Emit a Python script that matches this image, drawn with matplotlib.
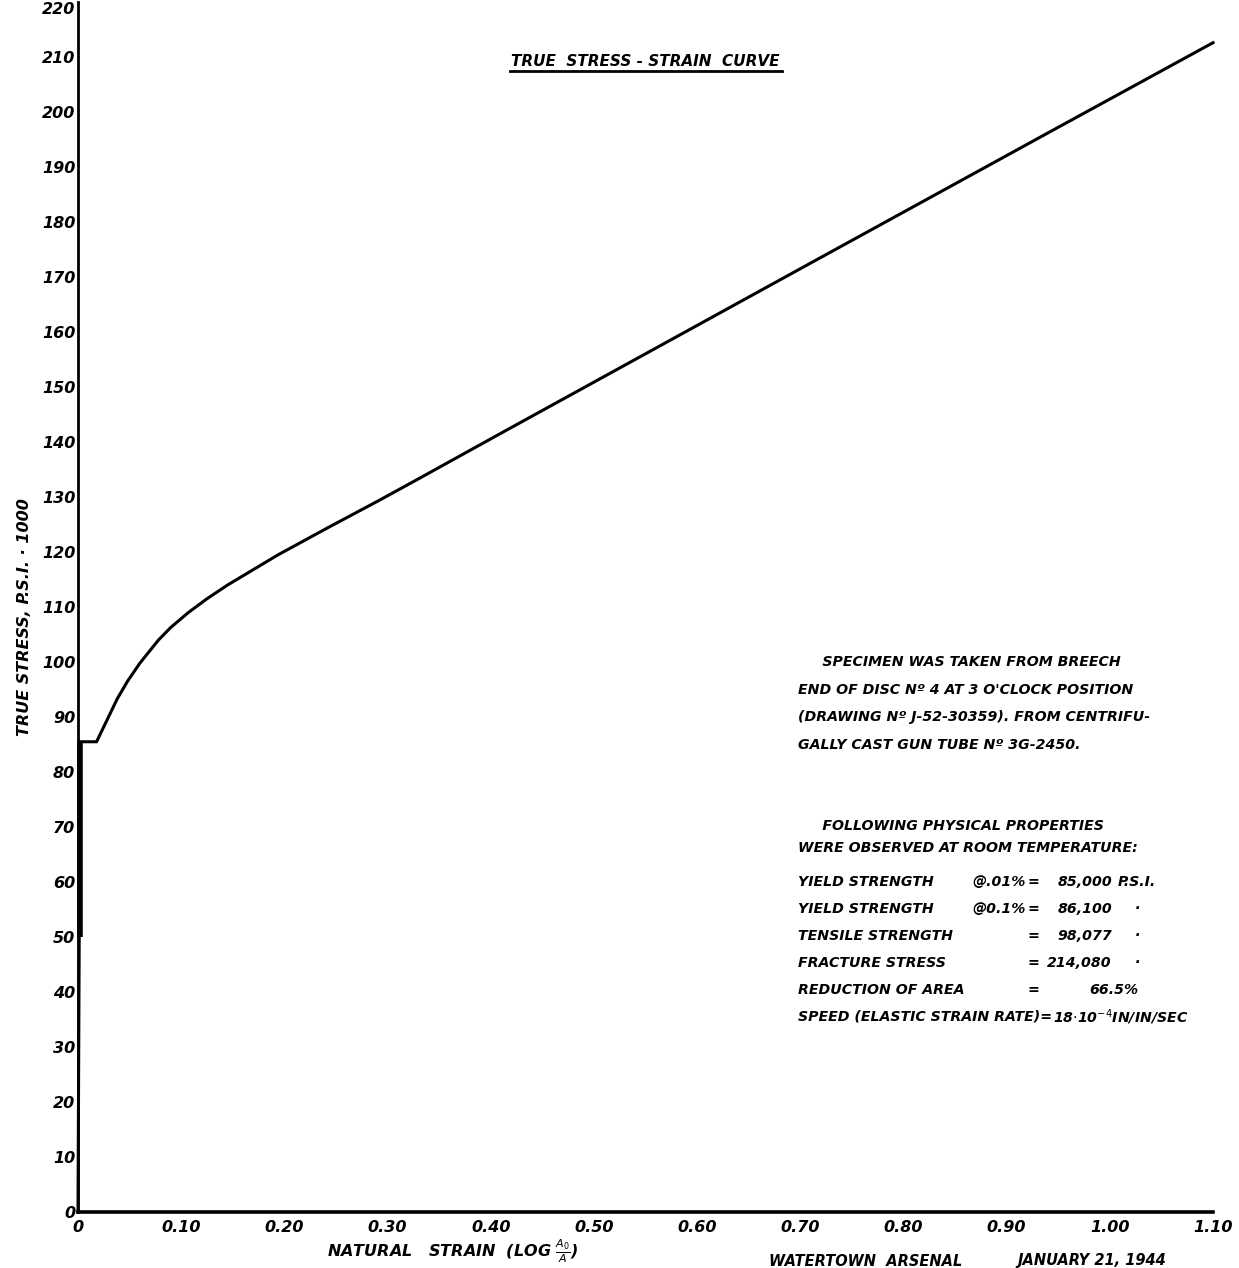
import matplotlib
matplotlib.use("Agg")
import matplotlib.pyplot as plt
from matplotlib.lines import Line2D

# ---- data ----
strain = [0.0, 0.002, 0.018, 0.038, 0.048, 0.060, 0.078, 0.090, 0.107, 0.125,
          0.145, 0.194, 0.242, 0.291, 0.329, 0.409, 0.506, 0.603, 0.700,
          0.838, 0.942, 1.022, 1.100]
true_stress = [0.0, 85.5, 85.5, 93.3, 96.5, 99.8, 104.0, 106.3, 109.0, 111.5,
               114.0, 119.5, 124.4, 129.3, 133.2, 141.5, 151.5, 161.5, 171.5,
               185.7, 196.4, 204.6, 212.6]

x_tick_values = [0.0, 0.1, 0.2, 0.3, 0.4, 0.5, 0.6, 0.7, 0.8, 0.9, 1.0, 1.1]
x_tick_labels = ["0", "0.10", "0.20", "0.30", "0.40", "0.50", "0.60", "0.70",
                 "0.80", "0.90", "1.00", "1.10"]
y_tick_values = list(range(0, 230, 10))

prop_names = ["YIELD STRENGTH", "YIELD STRENGTH", "TENSILE STRENGTH",
              "FRACTURE STRESS", "REDUCTION OF AREA"]
prop_offsets = ["@.01%", "@0.1%", "", "", ""]
prop_values = ["85,000", "86,100", "98,077", "214,080", "66.5%"]
prop_units = ["P.S.I.", "\u00b7", "\u00b7", "\u00b7", ""]
speed_label = "SPEED (ELASTIC STRAIN RATE)="
speed_value = r"18$\cdot$10$^{-4}$IN/IN/SEC"

# ---- layout ----
W, H = 1239, 1268
fig = plt.figure(figsize=(W / 100, H / 100), dpi=100)
ax = fig.add_axes([78 / W, 1 - 1212 / H, (1213 - 78) / W, (1212 - 2) / H])
ax.set_xlim(0, 1.10)
ax.set_ylim(0, 220)

FONT = dict(family="DejaVu Sans", style="italic", weight="bold")

for s in ["top", "right"]:
    ax.spines[s].set_visible(False)
ax.spines["left"].set_linewidth(2.0)
ax.spines["bottom"].set_linewidth(2.6)

# curve
ax.plot(strain, true_stress, color="black", lw=2.2, solid_joinstyle="miter",
        clip_on=False, zorder=5)
ax.plot([strain[1], strain[1]], [50, true_stress[1]], color="black", lw=4.0,
        clip_on=False, solid_capstyle="butt", zorder=5)

# y ticks
ax.set_yticks(y_tick_values)
ax.set_yticklabels([str(v) for v in y_tick_values], fontsize=11.5, **FONT)
ax.tick_params(axis="y", length=0, pad=2)
ax.get_yticklabels()[-1].set_va("top")

# x ticks
ax.set_xticks(x_tick_values)
ax.set_xticklabels(x_tick_labels, fontsize=11.5, **FONT)
ax.tick_params(axis="x", length=0, pad=6)

# axis titles
fig.text(25 / W, 1 - 617 / H, "TRUE STRESS, P.S.I. \u00b7 1000", rotation=90,
         ha="center", va="center", fontsize=11.5, **FONT)
fig.text(453 / W, 1 - 1251 / H,
         r"NATURAL   STRAIN  (LOG $\frac{A_0}{A}$)",
         ha="center", va="center", fontsize=11.5, **FONT)
fig.text(866 / W, 1 - 1261 / H, "WATERTOWN  ARSENAL", ha="center", va="center",
         fontsize=10.5, **FONT)
fig.text(1092 / W, 1 - 1261 / H, "JANUARY 21, 1944", ha="center", va="center",
         fontsize=10.5, **FONT)

# title with underline
fig.text(645 / W, 1 - 61 / H, "TRUE  STRESS - STRAIN  CURVE", ha="center",
         va="center", fontsize=11, **FONT)
fig.add_artist(Line2D([510 / W, 782 / W], [1 - 71 / H, 1 - 71 / H],
                      color="black", lw=2))

# notes
notes1 = ["     SPECIMEN WAS TAKEN FROM BREECH",
          "END OF DISC N\u00ba 4 AT 3 O'CLOCK POSITION",
          "(DRAWING N\u00ba J-52-30359). FROM CENTRIFU-",
          "GALLY CAST GUN TUBE N\u00ba 3G-2450."]
for i, t in enumerate(notes1):
    fig.text(798 / W, 1 - (662 + 27.7 * i) / H, t, ha="left", va="center",
             fontsize=10.2, **FONT)

notes2 = ["     FOLLOWING PHYSICAL PROPERTIES",
          "WERE OBSERVED AT ROOM TEMPERATURE:"]
for i, t in enumerate(notes2):
    fig.text(798 / W, 1 - (826 + 22 * i) / H, t, ha="left", va="center",
             fontsize=10.2, **FONT)

for i in range(len(prop_names)):
    y = 1 - (882 + 27 * i) / H
    fig.text(798 / W, y, prop_names[i], ha="left", va="center", fontsize=10.2, **FONT)
    if prop_offsets[i]:
        fig.text(972 / W, y, prop_offsets[i], ha="left", va="center",
                 fontsize=10.2, **FONT)
    fig.text(1033 / W, y, "=", ha="center", va="center", fontsize=10.2, **FONT)
    if i == 4:
        fig.text(1138 / W, y, prop_values[i], ha="right", va="center",
                 fontsize=10.2, **FONT)
    else:
        fig.text(1112 / W, y, prop_values[i], ha="right", va="center",
                 fontsize=10.2, **FONT)
    if prop_units[i]:
        fig.text(1118 / W if i == 0 else 1135 / W, y, prop_units[i], ha="left",
                 va="center", fontsize=10.2, **FONT)

y = 1 - (882 + 27 * 5) / H
fig.text(798 / W, y, speed_label, ha="left", va="center", fontsize=10.2, **FONT)
fig.text(1053 / W, y, speed_value, ha="left", va="center", fontsize=10.2, **FONT)

fig.savefig("out.png", dpi=100, facecolor="white")
